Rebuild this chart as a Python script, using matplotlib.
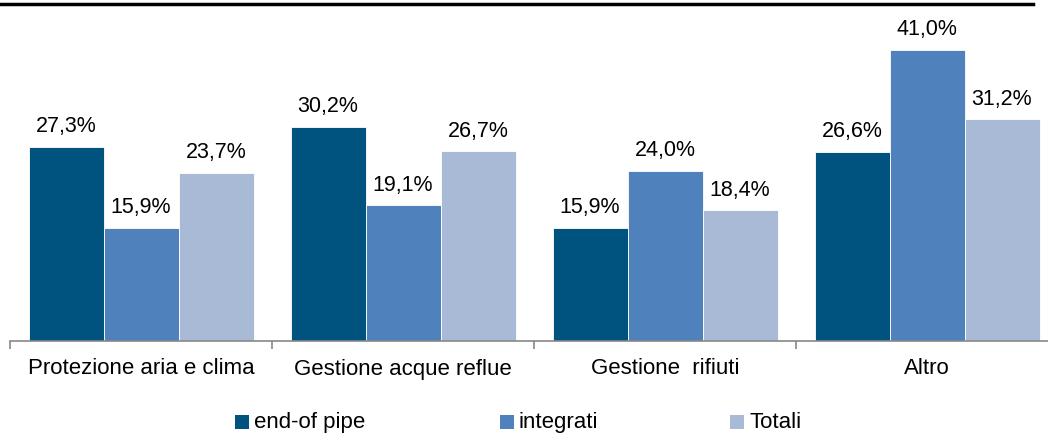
import numpy as np
import matplotlib
matplotlib.use("Agg")
import matplotlib.pyplot as plt
from matplotlib.patches import Rectangle

categories = ["Protezione aria e clima", "Gestione acque reflue", "Gestione  rifiuti", "Altro"]
series_names = ["end-of pipe", "integrati", "Totali"]
end_of_pipe = [27.3, 30.2, 15.9, 26.6]
integrati = [15.9, 19.1, 24.0, 41.0]
totali = [23.7, 26.7, 18.4, 31.2]
colors = ["#00527F", "#4F81BD", "#A9BAD7"]

plt.rcParams['font.family'] = ['Liberation Sans', 'DejaVu Sans']

W, H = 1048, 434
fig = plt.figure(figsize=(W / 100, H / 100), dpi=100)
# plot area in pixels: left 10, baseline 341, 262 px per group (right edge runs off the picture)
ax = fig.add_axes([10 / W, (H - 341) / H, 1048 / W, 321 / H])

x = np.arange(len(categories))
bw = 75 / 262
for i, (vals, c) in enumerate(zip([end_of_pipe, integrati, totali], colors)):
    pos = x + (i - 1) * bw
    bars = ax.bar(pos, vals, width=bw, color=c, edgecolor="white", linewidth=0.6)
    for b, v in zip(bars, vals):
        ax.annotate(f"{v:.1f}%".replace(".", ","), (b.get_x() + b.get_width() / 2, v),
                    xytext=(0, 7), textcoords="offset points", ha="center", va="bottom",
                    fontsize=15.5)

ax.set_xlim(-0.5, 3.5)
ax.set_ylim(0, 321 / 7.1)
for s in ["top", "right", "left"]:
    ax.spines[s].set_visible(False)
ax.spines["bottom"].set_color("#888888")
ax.spines["bottom"].set_linewidth(1.2)
ax.set_yticks([])
ax.set_xticks(np.arange(-0.5, 4, 1.0))
ax.set_xticklabels([])
ax.tick_params(axis="x", direction="out", length=6, color="#888888", width=1.2)
for xi, lab in zip(x, categories):
    ax.text(xi, -28 / 7.1, lab, ha="center", va="center", fontsize=16)

# border line at the top of the picture
fig.add_artist(plt.Line2D([0, 1033 / W], [1 - 4 / H, 1 - 4 / H], color="black", linewidth=2.5))

# legend along the bottom edge
legend_x = [235, 500, 730]
for lx, name, c in zip(legend_x, series_names, colors):
    fig.add_artist(Rectangle((lx / W, 5 / H), 14 / W, 14 / H, facecolor=c, edgecolor="none",
                             transform=fig.transFigure))
    fig.text((lx + 19) / W, 6 / H, name, ha="left", va="baseline", fontsize=16)

fig.savefig("out.png", dpi=100)
